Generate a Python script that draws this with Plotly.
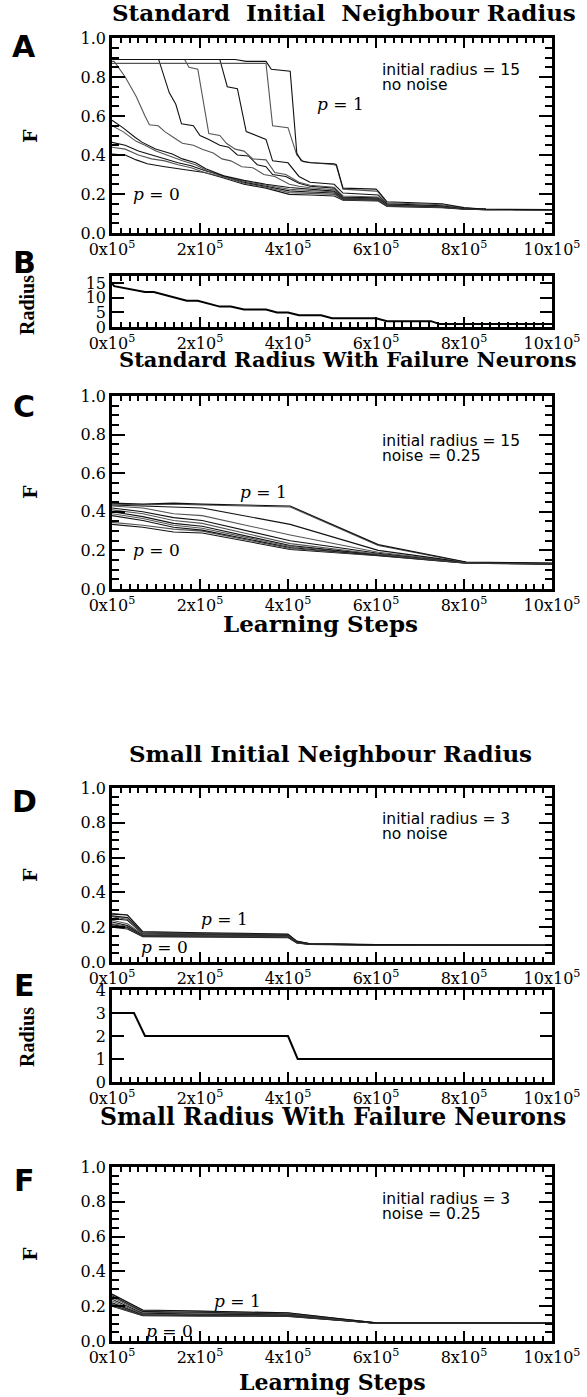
import plotly.graph_objects as go

# ---------------- data (learning steps in units of 10^5) ----------------
X_TICK_VALUES = [0, 2, 4, 6, 8, 10]
X_TICK_LABELS = ["0x10<sup>5</sup>", "2x10<sup>5</sup>", "4x10<sup>5</sup>",
                 "6x10<sup>5</sup>", "8x10<sup>5</sup>", "10x10<sup>5</sup>"]

# Panel A : standard initial radius, no noise (one list per p)
A_STEPS_P00 = [0, 0.3, 0.55, 0.8, 1.2, 1.5, 1.8, 2.1, 2.5, 3.0, 3.5, 4.03, 4.5, 5.05, 5.25, 6.05, 6.25, 7.5, 8.0, 8.5, 10]
A_F_P00 = [0.405, 0.40, 0.375, 0.355, 0.34, 0.33, 0.32, 0.31, 0.285, 0.25, 0.23, 0.198, 0.195, 0.19, 0.168, 0.164, 0.136, 0.13, 0.122, 0.12, 0.12]
A_STEPS_P01 = [0, 0.3, 0.6, 0.9, 1.2, 1.5, 1.8, 2.1, 2.5, 3.0, 3.5, 4.03, 4.5, 5.05, 5.25, 6.05, 6.25, 7.5, 8.0, 8.5, 10]
A_F_P01 = [0.44, 0.43, 0.40, 0.38, 0.37, 0.35, 0.335, 0.31, 0.29, 0.255, 0.235, 0.207, 0.203, 0.198, 0.171, 0.167, 0.138, 0.131, 0.123, 0.12, 0.12]
A_STEPS_P02 = [0, 0.3, 0.6, 0.9, 1.2, 1.5, 1.8, 2.1, 2.5, 3.0, 3.5, 4.03, 4.5, 5.05, 5.25, 6.05, 6.25, 7.5, 8.0, 8.5, 10]
A_F_P02 = [0.465, 0.45, 0.42, 0.40, 0.38, 0.36, 0.345, 0.32, 0.295, 0.26, 0.24, 0.216, 0.21, 0.205, 0.174, 0.17, 0.14, 0.132, 0.123, 0.12, 0.12]
A_STEPS_P03 = [0, 0.25, 0.55, 0.75, 1.0, 1.35, 1.6, 1.9, 2.15, 2.55, 3.0, 3.5, 4.03, 4.5, 5.05, 5.25, 6.05, 6.25, 7.5, 8.0, 8.5, 10]
A_F_P03 = [0.55, 0.52, 0.47, 0.45, 0.42, 0.39, 0.37, 0.35, 0.32, 0.29, 0.265, 0.245, 0.224, 0.218, 0.21, 0.177, 0.172, 0.142, 0.133, 0.124, 0.121, 0.12]
A_STEPS_P04 = [0, 0.23, 0.53, 0.68, 0.99, 1.37, 1.6, 1.9, 2.13, 2.54, 3.0, 3.5, 4.03, 4.5, 5.05, 5.25, 6.05, 6.25, 7.5, 8.0, 8.5, 10]
A_F_P04 = [0.578, 0.543, 0.49, 0.466, 0.431, 0.405, 0.38, 0.36, 0.33, 0.293, 0.27, 0.25, 0.233, 0.225, 0.215, 0.18, 0.175, 0.145, 0.135, 0.125, 0.121, 0.12]
A_STEPS_P05 = [0, 0.05, 0.3, 0.55, 0.75, 0.85, 1.05, 1.2, 1.4, 1.6, 1.85, 2.05, 2.3, 2.5, 2.7, 2.95, 3.2, 3.45, 3.7, 4.03, 4.25, 4.5, 5.05, 5.25, 6.05, 6.25, 7.5, 8.0, 8.5, 10]
A_F_P05 = [0.88, 0.88, 0.80, 0.70, 0.60, 0.555, 0.55, 0.52, 0.49, 0.46, 0.45, 0.43, 0.41, 0.38, 0.37, 0.34, 0.335, 0.30, 0.29, 0.25, 0.24, 0.232, 0.222, 0.182, 0.177, 0.143, 0.134, 0.124, 0.121, 0.12]
A_STEPS_P06 = [0, 1.06, 1.3, 1.45, 1.58, 1.85, 2.0, 2.2, 2.45, 2.65, 2.85, 3.1, 3.3, 3.5, 3.65, 3.95, 4.25, 4.5, 5.05, 5.25, 6.05, 6.25, 7.5, 8.0, 8.5, 10]
A_F_P06 = [0.89, 0.89, 0.72, 0.66, 0.56, 0.55, 0.50, 0.48, 0.45, 0.44, 0.40, 0.395, 0.35, 0.34, 0.30, 0.29, 0.255, 0.24, 0.23, 0.185, 0.18, 0.145, 0.135, 0.124, 0.121, 0.12]
A_STEPS_P07 = [0, 1.65, 1.75, 1.95, 2.2, 2.45, 2.6, 2.8, 3.0, 3.2, 3.5, 3.7, 3.95, 4.25, 4.5, 5.05, 5.25, 6.05, 6.25, 7.5, 8.0, 8.5, 10]
A_F_P07 = [0.89, 0.89, 0.85, 0.84, 0.51, 0.50, 0.46, 0.43, 0.42, 0.38, 0.375, 0.31, 0.30, 0.26, 0.245, 0.235, 0.19, 0.185, 0.148, 0.138, 0.125, 0.121, 0.12]
A_STEPS_P08 = [0, 2.45, 2.62, 2.85, 3.05, 3.3, 3.5, 3.65, 4.0, 4.25, 4.5, 5.05, 5.25, 6.05, 6.25, 7.5, 8.0, 8.5, 10]
A_F_P08 = [0.89, 0.89, 0.75, 0.74, 0.52, 0.50, 0.48, 0.37, 0.36, 0.29, 0.26, 0.25, 0.205, 0.195, 0.15, 0.14, 0.126, 0.121, 0.12]
A_STEPS_P09 = [0, 3.5, 3.65, 4.0, 4.2, 4.35, 5.05, 5.1, 5.25, 6.0, 6.05, 6.25, 7.5, 8.0, 8.5, 10]
A_F_P09 = [0.87, 0.87, 0.55, 0.54, 0.40, 0.365, 0.35, 0.345, 0.225, 0.215, 0.21, 0.155, 0.145, 0.128, 0.121, 0.12]
A_STEPS_P10 = [0, 2.8, 3.05, 3.5, 3.62, 4.05, 4.2, 4.3, 4.5, 5.05, 5.1, 5.25, 6.0, 6.05, 6.25, 7.0, 7.5, 8.0, 8.5, 10]
A_F_P10 = [0.89, 0.89, 0.88, 0.88, 0.84, 0.83, 0.41, 0.37, 0.36, 0.355, 0.35, 0.23, 0.225, 0.215, 0.16, 0.155, 0.15, 0.13, 0.122, 0.12]

# Panel B : neighbour radius schedule (standard)
B_STEPS = [0, 0.05, 0.75, 0.95, 1.7, 1.95, 2.45, 2.7, 3.0, 3.5, 3.75, 4.0, 4.25, 4.75, 5.0, 6.0, 6.25, 7.25, 7.45, 10]
B_RADIUS = [15, 14, 12, 12, 9, 9, 7, 7, 6, 6, 5, 5, 4, 4, 3, 3, 2, 2, 1, 1]

# Panel C : standard radius with failure neurons
C_STEPS = [0, 0.7, 1.4, 2.05, 4.05, 6.05, 8.05, 10]
C_F_P00 = [0.335, 0.32, 0.295, 0.29, 0.205, 0.172, 0.134, 0.129]
C_F_P01 = [0.345, 0.33, 0.31, 0.30, 0.21, 0.174, 0.134, 0.129]
C_F_P02 = [0.38, 0.355, 0.32, 0.305, 0.215, 0.175, 0.135, 0.13]
C_F_P03 = [0.39, 0.365, 0.33, 0.315, 0.22, 0.176, 0.135, 0.13]
C_F_P04 = [0.40, 0.375, 0.34, 0.325, 0.225, 0.178, 0.136, 0.13]
C_F_P05 = [0.41, 0.39, 0.355, 0.34, 0.235, 0.18, 0.136, 0.131]
C_F_P06 = [0.42, 0.40, 0.37, 0.355, 0.25, 0.185, 0.137, 0.131]
C_F_P07 = [0.43, 0.42, 0.39, 0.38, 0.28, 0.19, 0.137, 0.132]
C_F_P08 = [0.435, 0.43, 0.425, 0.42, 0.335, 0.20, 0.138, 0.132]
C_F_P09 = [0.44, 0.435, 0.44, 0.435, 0.425, 0.225, 0.138, 0.133]
C_F_P10 = [0.445, 0.44, 0.445, 0.44, 0.43, 0.23, 0.14, 0.135]

# Panel D : small initial radius, no noise
D_STEPS = [0, 0.35, 0.7, 1.4, 2.0, 3.0, 4.0, 4.2, 4.5, 6.0, 8.0, 10]
D_F_P00 = [0.20, 0.19, 0.146, 0.145, 0.144, 0.142, 0.14, 0.11, 0.101, 0.098, 0.096, 0.096]
D_F_P01 = [0.21, 0.195, 0.148, 0.146, 0.145, 0.144, 0.142, 0.11, 0.101, 0.098, 0.096, 0.096]
D_F_P02 = [0.215, 0.20, 0.15, 0.148, 0.147, 0.146, 0.144, 0.111, 0.102, 0.098, 0.096, 0.096]
D_F_P03 = [0.22, 0.205, 0.152, 0.15, 0.149, 0.148, 0.146, 0.112, 0.102, 0.098, 0.097, 0.096]
D_F_P04 = [0.23, 0.21, 0.155, 0.153, 0.152, 0.15, 0.148, 0.113, 0.103, 0.098, 0.097, 0.096]
D_F_P05 = [0.24, 0.22, 0.158, 0.156, 0.155, 0.153, 0.15, 0.114, 0.103, 0.099, 0.097, 0.096]
D_F_P06 = [0.25, 0.24, 0.162, 0.16, 0.158, 0.156, 0.152, 0.115, 0.103, 0.099, 0.097, 0.096]
D_F_P07 = [0.26, 0.245, 0.165, 0.162, 0.16, 0.158, 0.154, 0.116, 0.104, 0.099, 0.097, 0.096]
D_F_P08 = [0.265, 0.255, 0.168, 0.165, 0.163, 0.16, 0.156, 0.117, 0.104, 0.099, 0.097, 0.096]
D_F_P09 = [0.28, 0.27, 0.17, 0.168, 0.165, 0.162, 0.158, 0.118, 0.105, 0.10, 0.097, 0.096]
D_F_P10 = [0.275, 0.27, 0.175, 0.17, 0.168, 0.165, 0.16, 0.12, 0.105, 0.10, 0.097, 0.096]

# Panel E : neighbour radius schedule (small)
E_STEPS = [0, 0.5, 0.75, 4.0, 4.22, 10]
E_RADIUS = [3, 3, 2, 2, 1, 1]

# Panel F : small radius with failure neurons
F_STEPS = [0, 0.7, 2.0, 4.0, 6.0, 8.0, 10]
F_F_P00 = [0.20, 0.146, 0.144, 0.141, 0.102, 0.102, 0.102]
F_F_P01 = [0.205, 0.147, 0.145, 0.142, 0.102, 0.102, 0.102]
F_F_P02 = [0.21, 0.148, 0.146, 0.144, 0.102, 0.102, 0.102]
F_F_P03 = [0.215, 0.15, 0.148, 0.145, 0.102, 0.102, 0.102]
F_F_P04 = [0.22, 0.152, 0.15, 0.147, 0.103, 0.102, 0.102]
F_F_P05 = [0.23, 0.155, 0.152, 0.149, 0.103, 0.103, 0.103]
F_F_P06 = [0.24, 0.16, 0.155, 0.151, 0.103, 0.103, 0.103]
F_F_P07 = [0.25, 0.165, 0.16, 0.154, 0.103, 0.103, 0.103]
F_F_P08 = [0.26, 0.17, 0.165, 0.157, 0.104, 0.103, 0.103]
F_F_P09 = [0.265, 0.175, 0.17, 0.16, 0.104, 0.103, 0.103]
F_F_P10 = [0.27, 0.178, 0.172, 0.162, 0.104, 0.103, 0.103]

# ---------------- layout helpers ----------------
W, H = 587, 1397
PLOT_LEFT, PLOT_RIGHT = 112, 552
PANEL_BOX = {
    "A": (38, 233), "B": (276, 327), "C": (396, 589),
    "D": (788, 962), "E": (990, 1082), "F": (1167, 1341),
}
SERIF = "DejaVu Serif"
SANS = "DejaVu Sans"
LINE_COLORS = ["#111111", "#555555"]

fig = go.Figure()
order = ["A", "B", "C", "D", "E", "F"]
axis_id = {k: i + 1 for i, k in enumerate(order)}


def px_x(x):
    return x / W


def px_y(y):
    return 1 - y / H


def ax_names(k):
    i = axis_id[k]
    return ("x" if i == 1 else f"x{i}"), ("y" if i == 1 else f"y{i}")


def add_curves(k, xs_list, ys_list, width=1.1, colors=LINE_COLORS):
    xa, ya = ax_names(k)
    for j, (xs, ys) in enumerate(zip(xs_list, ys_list)):
        fig.add_trace(go.Scatter(x=xs, y=ys, mode="lines", xaxis=xa, yaxis=ya,
                                 line=dict(color=colors[j % len(colors)], width=width),
                                 showlegend=False, hoverinfo="skip"))


add_curves("A",
           [A_STEPS_P00, A_STEPS_P01, A_STEPS_P02, A_STEPS_P03, A_STEPS_P04, A_STEPS_P05,
            A_STEPS_P06, A_STEPS_P07, A_STEPS_P08, A_STEPS_P09, A_STEPS_P10],
           [A_F_P00, A_F_P01, A_F_P02, A_F_P03, A_F_P04, A_F_P05,
            A_F_P06, A_F_P07, A_F_P08, A_F_P09, A_F_P10])
add_curves("B", [B_STEPS], [B_RADIUS], width=2, colors=["black"])
add_curves("C", [C_STEPS] * 11,
           [C_F_P00, C_F_P01, C_F_P02, C_F_P03, C_F_P04, C_F_P05,
            C_F_P06, C_F_P07, C_F_P08, C_F_P09, C_F_P10])
add_curves("D", [D_STEPS] * 11,
           [D_F_P00, D_F_P01, D_F_P02, D_F_P03, D_F_P04, D_F_P05,
            D_F_P06, D_F_P07, D_F_P08, D_F_P09, D_F_P10])
add_curves("E", [E_STEPS], [E_RADIUS], width=2, colors=["black"])
add_curves("F", [F_STEPS] * 11,
           [F_F_P00, F_F_P01, F_F_P02, F_F_P03, F_F_P04, F_F_P05,
            F_F_P06, F_F_P07, F_F_P08, F_F_P09, F_F_P10])

tick_font = dict(family=SERIF, size=16, color="black")
layout = dict(width=W, height=H, margin=dict(l=0, r=0, t=0, b=0, autoexpand=False),
              paper_bgcolor="white", plot_bgcolor="white", showlegend=False)

for k in order:
    top, bot = PANEL_BOX[k]
    xa, ya = ax_names(k)
    xkey = "xaxis" if axis_id[k] == 1 else f"xaxis{axis_id[k]}"
    ykey = "yaxis" if axis_id[k] == 1 else f"yaxis{axis_id[k]}"
    layout[xkey] = dict(domain=[px_x(PLOT_LEFT), px_x(PLOT_RIGHT)], anchor=ya, range=[0, 10],
                        tickmode="array", tickvals=X_TICK_VALUES, ticktext=X_TICK_LABELS,
                        ticks="inside", ticklen=10, tickwidth=2, tickcolor="black",
                        minor=dict(ticks="inside", dtick=0.2, tick0=0, ticklen=5,
                                   tickwidth=1.5, tickcolor="black", showgrid=False),
                        showline=True, linewidth=2.5, linecolor="black", mirror="allticks",
                        showgrid=False, zeroline=False, tickfont=tick_font)
    if k in ("B", "E"):
        yrange = [0, 17.5] if k == "B" else [0, 4]
        yvals = [0, 5, 10, 15] if k == "B" else [0, 1, 2, 3, 4]
        layout[ykey] = dict(domain=[px_y(bot), px_y(top)], anchor=xa, range=yrange,
                            tickmode="array", tickvals=yvals, ticktext=[str(v) for v in yvals],
                            ticks="inside", ticklen=12, tickwidth=2, tickcolor="black",
                            showline=True, linewidth=2.5, linecolor="black", mirror="allticks",
                            showgrid=False, zeroline=False, tickfont=tick_font)
    else:
        layout[ykey] = dict(domain=[px_y(bot), px_y(top)], anchor=xa, range=[0, 1],
                            tickmode="linear", tick0=0, dtick=0.2, tickformat=".1f",
                            ticks="inside", ticklen=13, tickwidth=2, tickcolor="black",
                            minor=dict(ticks="inside", dtick=0.05, tick0=0, ticklen=7,
                                       tickwidth=1.5, tickcolor="black", showgrid=False),
                            showline=True, linewidth=2.5, linecolor="black", mirror="allticks",
                            showgrid=False, zeroline=False, tickfont=tick_font)

fig.update_layout(**layout)


def ann_px(text, x, y, size, family=SERIF, weight="normal", angle=0, xanchor="center"):
    fig.add_annotation(text=text, x=px_x(x), y=px_y(y), xref="paper", yref="paper",
                       showarrow=False, xanchor=xanchor, yanchor="middle", textangle=angle,
                       font=dict(family=family, size=size, color="black", weight=weight))


def ann_data(k, text, x, y, size=15, family=SERIF, xanchor="center"):
    xa, ya = ax_names(k)
    fig.add_annotation(text=text, x=x, y=y, xref=xa, yref=ya, showarrow=False,
                       xanchor=xanchor, yanchor="middle",
                       font=dict(family=family, size=size, color="black"))


# titles
ann_px("Standard\u00a0 Initial\u00a0 Neighbour Radius", 344, 13, 23, weight="bold")
ann_px("Standard Radius With Failure Neurons", 347, 359, 21, weight="bold")
ann_px("Small Initial Neighbour Radius", 330, 753, 23, weight="bold")
ann_px("Small Radius With Failure Neurons", 333, 1117, 23.5, weight="bold")
# panel letters
for letter, yy in [("A", 46), ("B", 263), ("C", 407), ("D", 801), ("E", 985), ("F", 1180)]:
    ann_px(letter, 24, yy, 30, family=SANS, weight="bold")
# axis titles
for yy in [136, 492, 875, 1254]:
    ann_px("F", 30, yy, 19, weight="bold", angle=-90)
ann_px("Radius", 27, 305, 20, family="Liberation Serif", weight="bold", angle=-90)
ann_px("Radius", 27, 1037, 20, family="Liberation Serif", weight="bold", angle=-90)
ann_px("Learning Steps", 320, 623, 23, weight="bold")
ann_px("Learning Steps", 332, 1382, 22, weight="bold")

# in-plot notes
for k, line1, line2, y1, y2 in [
    ("A", "initial radius = 15", "no noise", 0.835, 0.76),
    ("C", "initial radius = 15", "noise = 0.25", 0.765, 0.69),
    ("D", "initial radius = 3", "no noise", 0.82, 0.735),
    ("F", "initial radius = 3", "noise = 0.25", 0.815, 0.73),
]:
    ann_data(k, line1, 6.1, y1, size=15.5, family=SANS, xanchor="left")
    ann_data(k, line2, 6.1, y2, size=15.5, family=SANS, xanchor="left")

for k, x1, y1, x0, y0 in [("A", 5.2, 0.66, 1.0, 0.2), ("C", 3.45, 0.5, 1.0, 0.2),
                          ("D", 2.55, 0.25, 1.2, 0.085), ("F", 2.85, 0.23, 1.3, 0.06)]:
    ann_data(k, "<i>p</i> = 1", x1, y1, size=17)
    ann_data(k, "<i>p</i> = 0", x0, y0, size=17)

# the page body keeps its default 8px margin unless it is cleared
fig.write_html("out.html", config={"displayModeBar": False},
               post_script="document.body.style.margin='0px';")
